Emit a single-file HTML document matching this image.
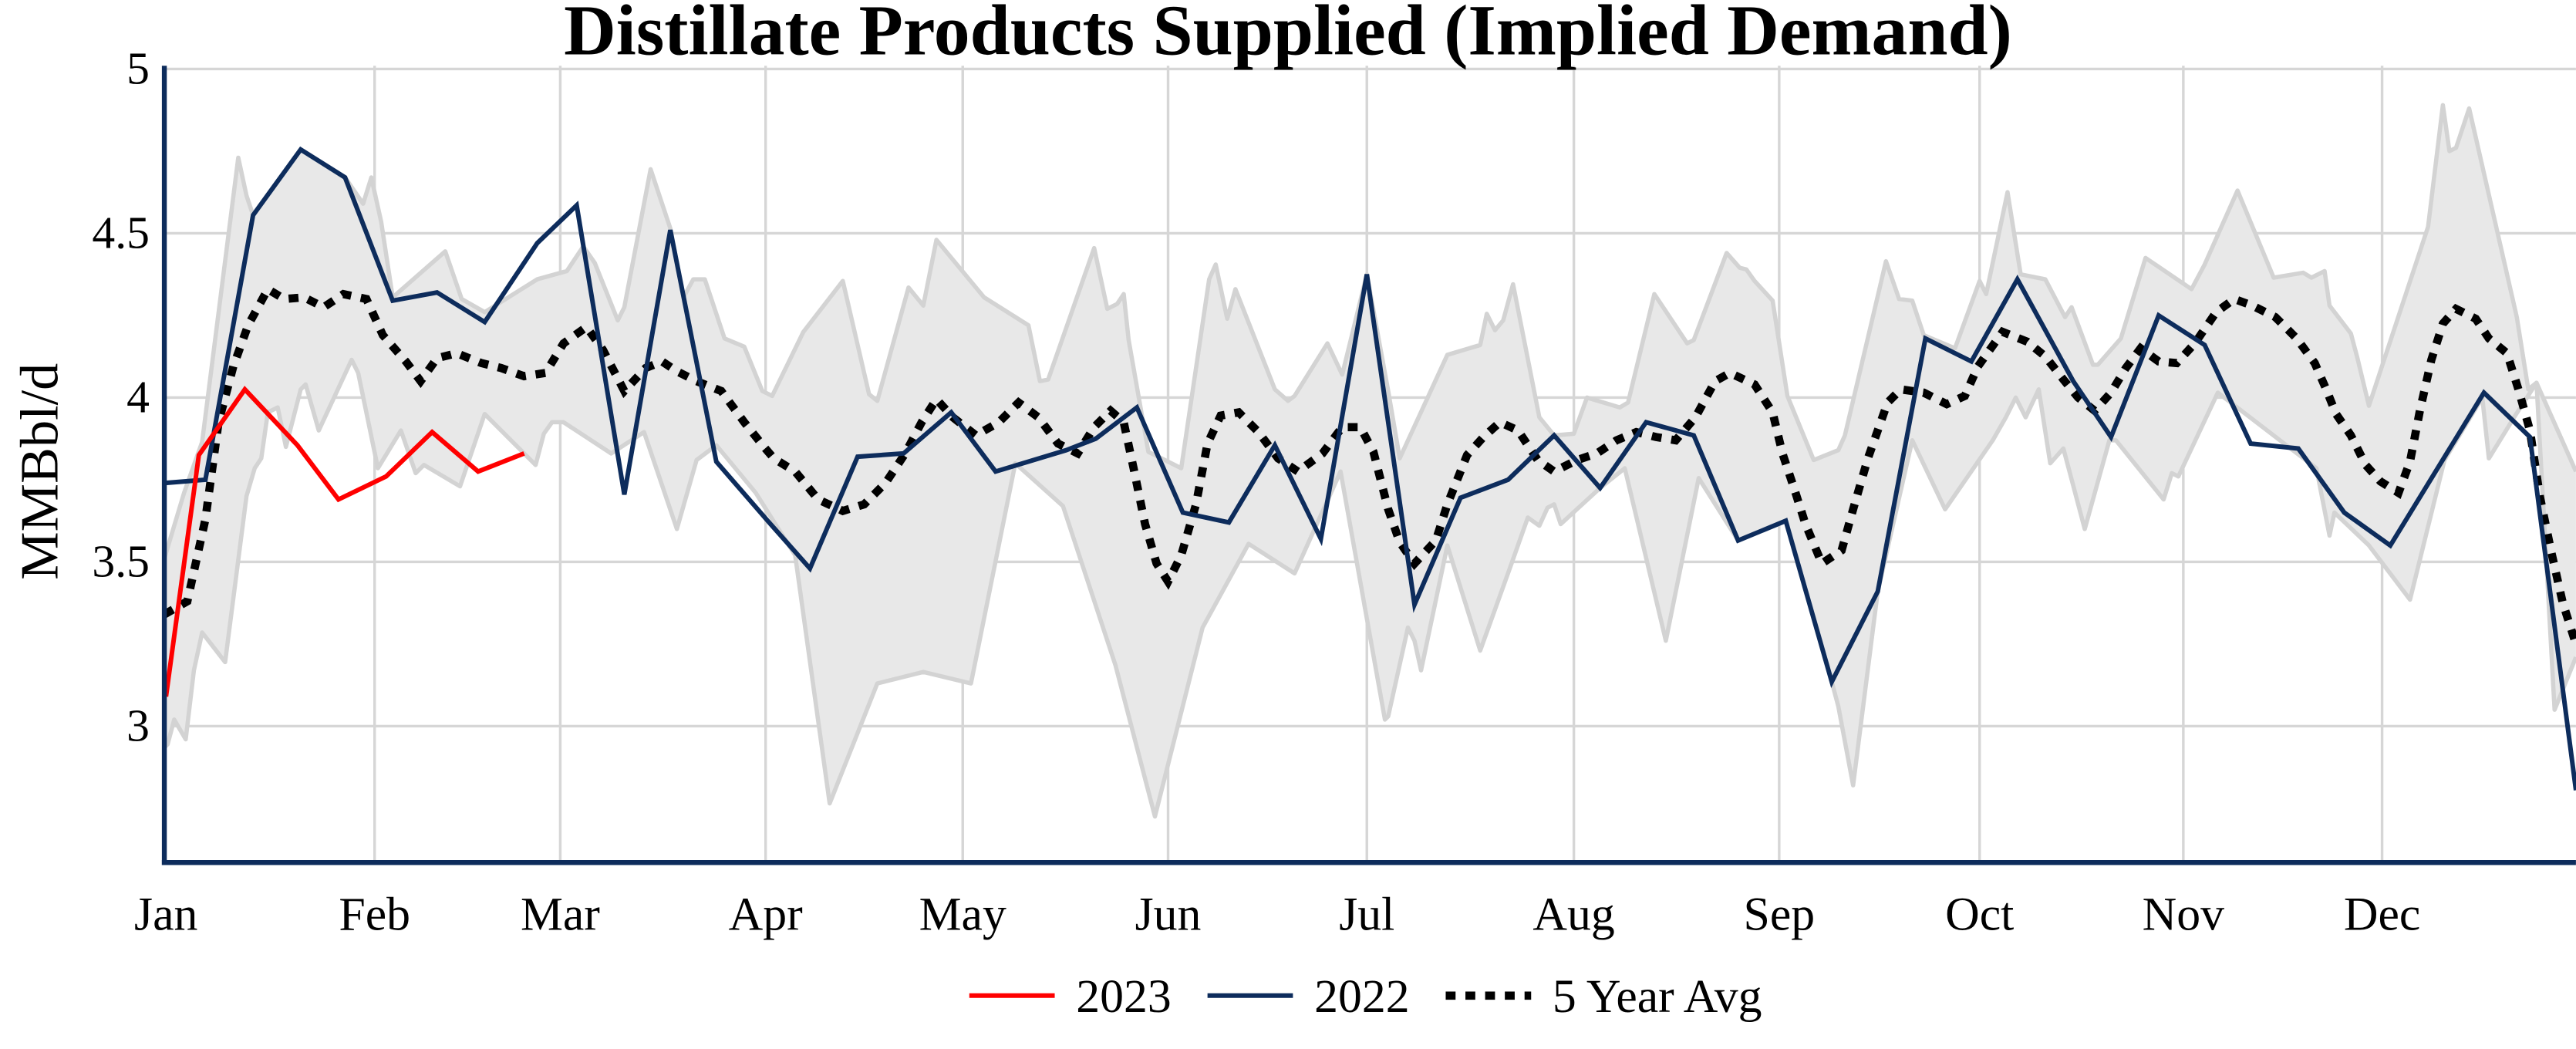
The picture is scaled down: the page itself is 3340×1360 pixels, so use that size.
<!DOCTYPE html>
<html><head><meta charset="utf-8"><style>html,body{margin:0;padding:0;background:#fff}svg{display:block}</style></head><body>
<svg width="3340" height="1360" viewBox="0 0 1568 638.5" xmlns="http://www.w3.org/2000/svg" font-family="Liberation Serif, serif">
<rect width="1568" height="638.5" fill="#fff"/>
<g stroke="#d6d6d6" stroke-width="1.6">
<line x1="100" y1="42" x2="1568" y2="42"/><line x1="100" y1="142" x2="1568" y2="142"/><line x1="100" y1="242" x2="1568" y2="242"/><line x1="100" y1="342" x2="1568" y2="342"/><line x1="100" y1="442" x2="1568" y2="442"/>
<line x1="228" y1="40" x2="228" y2="525"/><line x1="341" y1="40" x2="341" y2="525"/><line x1="466" y1="40" x2="466" y2="525"/><line x1="586" y1="40" x2="586" y2="525"/><line x1="711" y1="40" x2="711" y2="525"/><line x1="832" y1="40" x2="832" y2="525"/><line x1="958" y1="40" x2="958" y2="525"/><line x1="1083" y1="40" x2="1083" y2="525"/><line x1="1205" y1="40" x2="1205" y2="525"/><line x1="1329" y1="40" x2="1329" y2="525"/><line x1="1450" y1="40" x2="1450" y2="525"/>
</g>
<polygon fill="#e8e8e8" stroke="none" points="100,340 112,300 123,269 145,96 150,119 154,131 183,91 210,108 221,124 226,108 232,135 239,181 271,153 281,182 295,190 327,170 345,165 355,150 362,160 376,195 380,187 396,103 408,139 416,181 422,170 429,170 441,206 453,211 464,238 470,241 489,202 513,171 529,240 534,244 553,175 562,186 570,146 599,181 626,198 633,232 638,231 666,151 674,188 680,185 684,179 687,207 699,275 719,285 736,170 740,161 747,194 752,176 776,237 784,244 788,241 808,209 817,228 832,167 845,238 852,279 881,216 901,210 905,191 910,201 915,195 921,173 937,254 946,265 958,264 966,242 986,248 991,245 1007,179 1027,209 1031,207 1051,154 1059,163 1063,164 1068,171 1079,183 1088,241 1104,280 1119,274 1123,265 1148,159 1156,182 1164,183 1171,204 1190,212 1205,171 1209,179 1222,117 1230,167 1245,170 1257,193 1261,187 1274,222 1277,222 1291,206 1306,157 1334,176 1342,161 1362,116 1384,169 1402,166 1407,169 1415,165 1418,186 1431,203 1435,218 1442,247 1478,138 1487,64 1491,92 1495,90 1503,66 1532,193 1539,237 1544,233 1568,287 1568,400 1555,432 1544,233 1531,253 1515,279 1511,242 1488,280 1467,365 1442,332 1421,312 1418,326 1410,285 1350,239 1326,290 1322,288 1317,304 1288,268 1284,268 1269,322 1256,273 1248,282 1241,237 1233,254 1227,242 1221,254 1213,268 1184,310 1164,268 1143,360 1128,478 1119,430 1115,415 1087,317 1058,329 1034,291 1014,390 989,285 974,297 950,319 946,307 942,309 937,320 930,315 919,346 901,396 881,332 865,408 861,390 857,382 845,436 843,438 816,287 788,349 760,331 732,382 703,497 679,405 647,308 618,282 591,416 562,409 534,416 505,489 484,338 460,300 436,271 424,280 412,322 392,263 372,276 343,257 336,257 331,264 326,283 295,252 280,296 258,283 253,288 244,262 230,285 218,227 214,219 194,262 186,234 183,237 174,272 169,248 163,251 159,279 155,285 150,302 137,403 123,385 118,408 113,450 106,438 102,453 100,455"/>
<g fill="none" stroke="#d3d3d3" stroke-width="2.6" stroke-linejoin="round">
<polyline points="100,340 112,300 123,269 145,96 150,119 154,131 183,91 210,108 221,124 226,108 232,135 239,181 271,153 281,182 295,190 327,170 345,165 355,150 362,160 376,195 380,187 396,103 408,139 416,181 422,170 429,170 441,206 453,211 464,238 470,241 489,202 513,171 529,240 534,244 553,175 562,186 570,146 599,181 626,198 633,232 638,231 666,151 674,188 680,185 684,179 687,207 699,275 719,285 736,170 740,161 747,194 752,176 776,237 784,244 788,241 808,209 817,228 832,167 845,238 852,279 881,216 901,210 905,191 910,201 915,195 921,173 937,254 946,265 958,264 966,242 986,248 991,245 1007,179 1027,209 1031,207 1051,154 1059,163 1063,164 1068,171 1079,183 1088,241 1104,280 1119,274 1123,265 1148,159 1156,182 1164,183 1171,204 1190,212 1205,171 1209,179 1222,117 1230,167 1245,170 1257,193 1261,187 1274,222 1277,222 1291,206 1306,157 1334,176 1342,161 1362,116 1384,169 1402,166 1407,169 1415,165 1418,186 1431,203 1435,218 1442,247 1478,138 1487,64 1491,92 1495,90 1503,66 1532,193 1539,237 1544,233 1568,287"/>
<polyline points="1568,400 1555,432 1544,233 1531,253 1515,279 1511,242 1488,280 1467,365 1442,332 1421,312 1418,326 1410,285 1350,239 1326,290 1322,288 1317,304 1288,268 1284,268 1269,322 1256,273 1248,282 1241,237 1233,254 1227,242 1221,254 1213,268 1184,310 1164,268 1143,360 1128,478 1119,430 1115,415 1087,317 1058,329 1034,291 1014,390 989,285 974,297 950,319 946,307 942,309 937,320 930,315 919,346 901,396 881,332 865,408 861,390 857,382 845,436 843,438 816,287 788,349 760,331 732,382 703,497 679,405 647,308 618,282 591,416 562,409 534,416 505,489 484,338 460,300 436,271 424,280 412,322 392,263 372,276 343,257 336,257 331,264 326,283 295,252 280,296 258,283 253,288 244,262 230,285 218,227 214,219 194,262 186,234 183,237 174,272 169,248 163,251 159,279 155,285 150,302 137,403 123,385 118,408 113,450 106,438 102,453 100,455"/>
</g>
<polyline fill="none" stroke="#000" stroke-width="5" stroke-dasharray="6,6" points="100,374 114,366 125,316 133,257 142,223 151,198 163,176 173,182 185,181 197,187 209,179 223,182 233,204 247,220 256,232 266,218 278,215 293,221 305,224 319,229 332,227 343,209 357,199 367,213 380,238 393,224 403,220 412,226 424,232 439,238 453,257 465,272 471,279 484,287 498,304 513,311 526,307 539,294 551,276 561,257 570,243 580,254 594,265 608,257 620,245 632,254 644,270 656,276 666,260 676,250 684,257 690,285 697,319 704,343 711,354 719,338 728,307 735,270 743,253 754,251 766,263 778,279 790,287 805,276 817,260 828,260 836,275 845,310 852,330 861,343 874,329 881,307 893,277 903,266 913,257 924,262 936,280 946,287 960,280 972,276 984,268 996,263 1008,266 1020,268 1032,254 1044,232 1053,227 1068,234 1079,251 1085,276 1092,297 1099,319 1109,343 1121,335 1128,310 1137,279 1149,245 1157,237 1171,239 1185,246 1196,241 1204,223 1219,202 1234,208 1245,217 1256,231 1265,242 1275,250 1285,239 1294,224 1303,212 1314,220 1325,221 1336,209 1349,190 1360,182 1371,186 1385,193 1398,206 1409,221 1416,237 1422,252 1431,265 1440,283 1449,293 1460,300 1467,281 1473,250 1480,219 1487,197 1495,188 1507,194 1515,206 1526,215 1533,237 1540,262 1546,302 1553,336 1560,367 1568,392"/>
<polyline fill="none" stroke="#0d2c5c" stroke-width="2.8" stroke-linejoin="miter" points="100,294 125,292 154,131 183,91 210,108 239,183 266,178 295,196 327,148 351,125 380,301 408,140 436,281 469,319 493,346 522,278 550,276 579,251 606,287 649,274 667,267 692,248 720,312 748,318 776,271 804,328 832,167 861,368 889,303 918,292 946,265 974,297 1002,257 1031,265 1058,329 1087,317 1115,415 1143,360 1172,206 1200,220 1228,170 1262,232 1285,266 1314,192 1342,210 1370,270 1399,273 1427,312 1455,332 1512,239 1540,266 1568,481"/>
<polyline fill="none" stroke="#ff0000" stroke-width="2.8" points="101,424 121,277 149,237 181,271 206,304 235,290 263,263 291,287 319,276"/>
<line x1="100" y1="40" x2="100" y2="526.5" stroke="#0d2c5c" stroke-width="3"/>
<line x1="98.5" y1="525" x2="1568" y2="525" stroke="#0d2c5c" stroke-width="3"/>
<text x="784" y="33" text-anchor="middle" font-size="44" font-weight="bold">Distillate Products Supplied (Implied Demand)</text>
<g font-size="28" text-anchor="end">
<text x="91" y="51">5</text><text x="91" y="151">4.5</text><text x="91" y="251">4</text><text x="91" y="351">3.5</text><text x="91" y="451">3</text>
</g>
<g font-size="29" text-anchor="middle">
<text x="101" y="566">Jan</text><text x="228" y="566">Feb</text><text x="341" y="566">Mar</text><text x="466" y="566">Apr</text><text x="586" y="566">May</text><text x="711" y="566">Jun</text><text x="832" y="566">Jul</text><text x="958" y="566">Aug</text><text x="1083" y="566">Sep</text><text x="1205" y="566">Oct</text><text x="1329" y="566">Nov</text><text x="1450" y="566">Dec</text>
</g>
<text transform="translate(35,287) rotate(-90)" text-anchor="middle" font-size="33">MMBbl/d</text>
<g font-size="29">
<line x1="590" y1="606" x2="642" y2="606" stroke="#ff0000" stroke-width="2.8"/><text x="655" y="616">2023</text>
<line x1="735" y1="606" x2="787" y2="606" stroke="#0d2c5c" stroke-width="2.8"/><text x="800" y="616">2022</text>
<line x1="880" y1="606" x2="932" y2="606" stroke="#000" stroke-width="5" stroke-dasharray="6,6"/><text x="945" y="616">5 Year Avg</text>
</g>
</svg>
</body></html>
